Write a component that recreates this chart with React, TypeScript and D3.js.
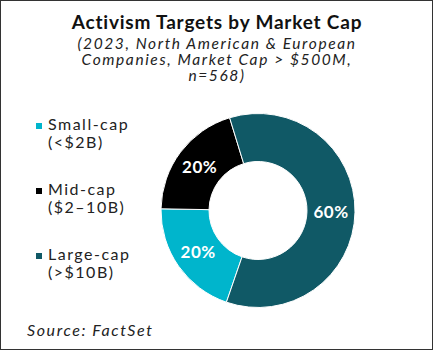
import React, { useRef, useEffect } from "react";
import * as d3 from "d3";

const categories = ["Small-cap", "Mid-cap", "Large-cap"];
const subLabels = ["(<$2B)", "($2–10B)", "(>$10B)"];
const shares = [20, 20, 60];
const colors = ["#00b5cc", "#000000", "#105966"];

const title = "Activism Targets by Market Cap";
const subtitleLines = [
  "(2023, North American & European",
  "Companies, Market Cap > $500M,",
  "n=568)",
];
const source = "Source: FactSet";

const W = 433;
const H = 350;
const FONT = "Lato, 'Open Sans', sans-serif";

const App = () => {
  const svgRef = useRef<SVGSVGElement>(null);

  useEffect(() => {
    const svg = d3.select(svgRef.current);
    svg.selectAll("*").remove();

    svg
      .append("rect")
      .attr("x", 0.5)
      .attr("y", 0.5)
      .attr("width", W - 1)
      .attr("height", H - 1)
      .attr("fill", "#fff")
      .attr("stroke", "#333")
      .attr("stroke-width", 1);

    // title + subtitle
    svg
      .append("text")
      .attr("x", 217)
      .attr("y", 29)
      .attr("text-anchor", "middle")
      .attr("font-family", FONT)
      .attr("font-weight", "bold")
      .attr("font-size", 19)
      .attr("letter-spacing", 0.8)
      .attr("fill", "#111")
      .text(title);

    svg
      .append("g")
      .selectAll("text")
      .data(subtitleLines)
      .join("text")
      .attr("x", 217)
      .attr("y", (d, i) => 48.5 + i * 16.2)
      .attr("text-anchor", "middle")
      .attr("font-family", FONT)
      .attr("font-style", "italic")
      .attr("font-size", 15.5)
      .attr("letter-spacing", 1.6)
      .attr("fill", "#222")
      .text((d) => d);

    // donut
    const cx = 258;
    const cy = 210.5;
    const outerR = 97;
    const innerR = 49;
    const start = (199 * Math.PI) / 180;

    const pie = d3
      .pie<number>()
      .sort(null)
      .value((d) => d)
      .startAngle(start)
      .endAngle(start + 2 * Math.PI);

    const arc = d3.arc<d3.PieArcDatum<number>>().innerRadius(innerR).outerRadius(outerR);

    const g = svg.append("g").attr("transform", `translate(${cx},${cy})`);
    const arcs = pie(shares);

    g.selectAll("path")
      .data(arcs)
      .join("path")
      .attr("d", arc)
      .attr("fill", (d, i) => colors[i])
      .attr("stroke", "#fff")
      .attr("stroke-width", 1);

    g.selectAll("text")
      .data(arcs)
      .join("text")
      .attr("transform", (d) => `translate(${arc.centroid(d)})`)
      .attr("text-anchor", "middle")
      .attr("dy", "0.36em")
      .attr("font-family", FONT)
      .attr("font-weight", "bold")
      .attr("font-size", 17)
      .attr("letter-spacing", 0.5)
      .attr("fill", "#fff")
      .text((d) => `${d.data}%`);

    // legend
    const legend = svg.append("g").attr("transform", "translate(36, 130)");
    categories.forEach((c, i) => {
      const item = legend.append("g").attr("transform", `translate(0, ${i * 65})`);
      item
        .append("rect")
        .attr("x", 0)
        .attr("y", -7)
        .attr("width", 6)
        .attr("height", 6)
        .attr("fill", colors[i]);
      item
        .append("text")
        .attr("x", 12)
        .attr("y", 0)
        .attr("font-family", FONT)
        .attr("font-size", 16)
        .attr("letter-spacing", 1.5)
        .attr("fill", "#222")
        .text(c);
      item
        .append("text")
        .attr("x", 12)
        .attr("y", 17.5)
        .attr("font-family", FONT)
        .attr("font-size", 16)
        .attr("letter-spacing", 1.5)
        .attr("fill", "#222")
        .text(subLabels[i]);
    });

    svg
      .append("text")
      .attr("x", 27)
      .attr("y", 336)
      .attr("font-family", FONT)
      .attr("font-style", "italic")
      .attr("font-size", 16)
      .attr("letter-spacing", 1.6)
      .attr("fill", "#222")
      .text(source);
  }, []);

  return (
    <svg
      ref={svgRef}
      width={W}
      height={H}
      style={{ position: "absolute", left: 0, top: 0, display: "block" }}
    />
  );
};

export default App;
